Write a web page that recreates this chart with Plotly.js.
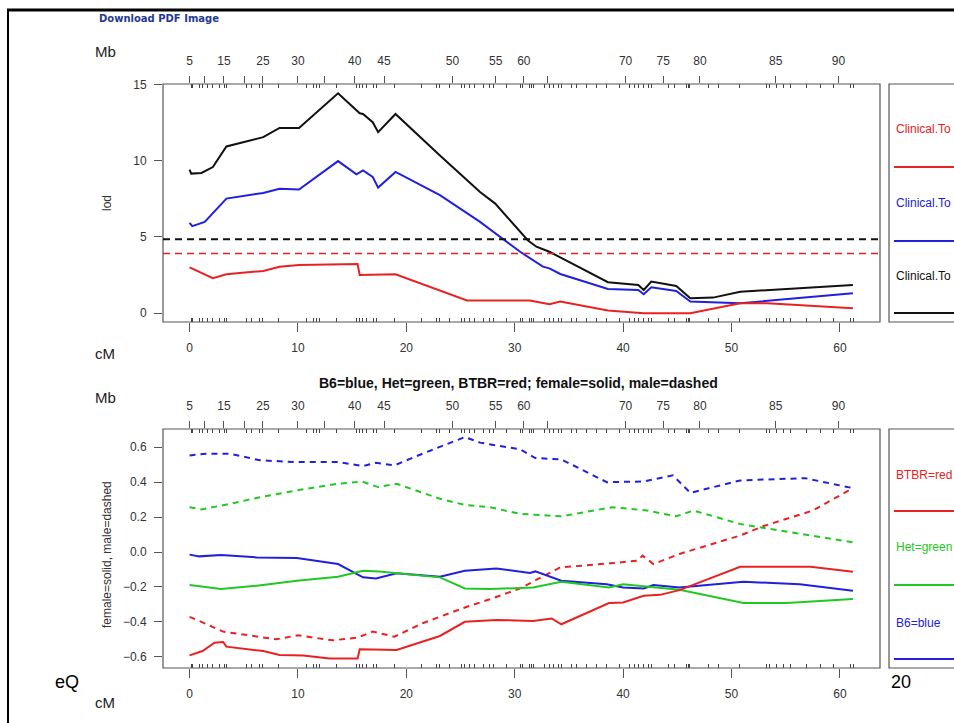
<!DOCTYPE html>
<html>
<head>
<meta charset="utf-8">
<script src="https://cdn.plot.ly/plotly-3.0.1.min.js"></script>
<style>html,body{margin:0;padding:0;background:#fff;overflow:hidden}#chart{width:954px;height:723px}</style>
</head>
<body>
<div id="chart"></div>
<script>
// ---------- data ----------
// top panel: LOD curves (x in cM)
const totCM  = [0,0.15,1.1,2.15,3.4,6.8,8.3,10.1,13.7,15.7,16.0,16.9,17.4,19.0,23.1,26.8,28.2,31.2,32.0,33.2,34.2,38.6,41.4,41.9,42.6,44.9,46.2,48.3,50.8,61.2];
const totLod = [9.42,9.16,9.2,9.59,10.94,11.55,12.16,12.16,14.43,13.12,13.07,12.53,11.88,13.07,10.35,7.95,7.19,4.79,4.36,4.03,3.66,2.03,1.85,1.52,2.07,1.79,0.98,1.02,1.41,1.85];
const bluCM  = [0,0.25,1.4,2.15,3.4,6.8,8.3,10.1,13.7,15.4,16.0,16.9,17.4,19.0,23.1,26.8,28.6,30.5,32.6,33.2,34.2,38.6,41.4,41.9,42.6,44.9,46.2,50.8,61.2];
const bluLod = [5.93,5.71,5.99,6.54,7.52,7.89,8.17,8.11,9.98,9.11,9.37,8.94,8.24,9.27,7.74,5.99,5.01,4.03,3.05,2.94,2.57,1.59,1.52,1.24,1.7,1.46,0.76,0.65,1.31];
const redCM  = [0,2.15,3.4,6.8,8.3,10.1,15.5,15.7,19.0,25.6,31.4,33.2,34.2,38.6,41.9,46.2,50.8,53.3,61.2];
const redLod = [3.01,2.29,2.55,2.77,3.05,3.16,3.22,2.51,2.55,0.83,0.83,0.59,0.76,0.17,0.0,0.0,0.65,0.65,0.33];
const thresholds = [4.85, 3.92];           // black, red dashed thresholds
const topLegend = ["Clinical.To", "Clinical.To", "Clinical.To"];

// bottom panel: effect estimates
const b6MaleCM  = [0,1.5,3.7,6.5,9.9,13.7,16.0,17.2,18.9,21.5,25.4,26.8,30.5,31.9,34.3,38.5,41.9,44.6,46.2,50.8,56.8,61.2];
const b6Male    = [0.552,0.562,0.562,0.524,0.514,0.514,0.491,0.510,0.495,0.562,0.657,0.625,0.587,0.537,0.529,0.399,0.403,0.438,0.338,0.409,0.422,0.365];
const hetMaleCM = [0,1.1,3.7,6.5,9.9,13.7,15.9,17.4,19.1,23.1,25.4,27.7,30.5,34.3,39.0,42.2,44.9,46.5,50.8,61.2];
const hetMale   = [0.256,0.243,0.275,0.313,0.352,0.390,0.403,0.371,0.390,0.304,0.269,0.256,0.218,0.204,0.256,0.237,0.204,0.237,0.160,0.055];
const b6FemCM   = [0,0.9,2.9,6.2,9.9,13.7,16.0,17.2,19.1,23.1,25.4,28.3,31.4,31.9,34.3,38.5,40.0,41.9,42.8,45.2,51.1,56.3,61.2];
const b6Fem     = [-0.015,-0.025,-0.017,-0.031,-0.034,-0.069,-0.145,-0.151,-0.122,-0.141,-0.107,-0.094,-0.120,-0.111,-0.164,-0.184,-0.203,-0.208,-0.189,-0.203,-0.170,-0.185,-0.222];
const hetFemCM  = [0,2.9,6.2,9.9,13.7,16.0,17.5,20.0,23.1,25.4,27.7,31.7,34.3,38.7,40.0,45.2,51.1,55.1,61.2];
const hetFem    = [-0.189,-0.212,-0.193,-0.164,-0.141,-0.107,-0.111,-0.126,-0.145,-0.208,-0.212,-0.203,-0.170,-0.203,-0.184,-0.216,-0.292,-0.292,-0.269];
const btbrFemCM = [0,1.2,2.3,3.1,3.4,6.8,8.3,10.5,12.9,15.5,15.7,17.5,19.1,23.1,25.4,28.3,31.7,33.4,34.3,38.7,40.0,41.9,43.4,45.2,50.8,57.3,61.2];
const btbrFem   = [-0.591,-0.566,-0.518,-0.514,-0.541,-0.566,-0.589,-0.591,-0.608,-0.608,-0.556,-0.556,-0.560,-0.480,-0.399,-0.388,-0.394,-0.380,-0.413,-0.292,-0.289,-0.250,-0.245,-0.218,-0.084,-0.084,-0.113];
const btbrMaleCM= [0,0.9,3.1,6.8,8.0,10.0,13.2,15.5,16.9,18.9,21.5,25.4,27.7,30.5,31.9,34.2,38.8,41.3,41.8,42.8,45.2,50.8,52.9,57.5,61.2];
const btbrMale  = [-0.371,-0.394,-0.455,-0.489,-0.499,-0.476,-0.505,-0.489,-0.455,-0.484,-0.407,-0.317,-0.270,-0.208,-0.164,-0.088,-0.065,-0.050,-0.021,-0.069,-0.011,0.094,0.147,0.237,0.365];
const bottomLegend = ["BTBR=red", "Het=green", "B6=blue"];

// axes
const cmTicks = [0,10,20,30,40,50,60];
const mbPos   = [0.0,1.39,3.17,5.08,6.77,10.0,12.47,15.24,17.94,24.26,28.25,30.84,32.99,40.23,43.70,47.09,54.08,59.86];
const mbText  = ["5","","15","","25","30","","40","45","50","55","60","","70","75","80","85","90"];
const markerPos = [0.15,0.31,0.92,1.23,1.69,2.15,2.77,3.23,3.39,5.23,5.69,6.46,6.71,8.16,10.77,11.39,11.7,12.0,13.54,15.39,15.7,16.0,16.3,16.93,17.24,18.93,21.39,22.78,23.08,24.0,25.08,25.39,25.85,26.31,27.08,27.7,28.0,29.24,30.53,30.72,31.39,31.55,31.7,32.78,33.24,33.55,34.0,34.3,35.24,35.7,36.63,37.55,38.47,39.7,40.63,41.09,41.39,41.86,42.32,42.63,44.16,44.78,45.86,46.01,46.17,47.86,48.78,50.78,53.25,53.55,54.17,54.78,55.4,56.94,58.17,59.4,60.94,61.25];

// ---------- styling / layout ----------
const W = 954, H = 723;
const px = v => v / W, py = v => 1 - v / H;
const RED = '#e82222', BLUE = '#2020dd', GREEN = '#22c822', BLACK = '#111111';
const FONT = 'Liberation Sans, Arial, sans-serif';
const xDom = [px(163), px(880)];
const topDom = [py(322), py(84)];
const botDom = [py(668), py(429)];
const xRange = [-2.45, 63.7];

function line(x, y, color, dash, xa, ya) {
  return {x, y, type: 'scatter', mode: 'lines', xaxis: xa, yaxis: ya,
          line: {color, width: 2, dash: dash || 'solid'}, hoverinfo: 'skip', showlegend: false};
}
function carrier(x, y, xa, ya) {   // invisible trace so the top Mb axes get drawn
  return {x, y, type: 'scatter', mode: 'none', xaxis: xa, yaxis: ya, hoverinfo: 'skip', showlegend: false};
}
const DASH = '6px,5px';
const traces = [
  carrier(totCM, totLod, 'x2', 'y'),
  carrier(b6MaleCM, b6Male, 'x4', 'y2'),
  line(totCM, totLod, BLACK, null, 'x', 'y'),
  line(bluCM, bluLod, BLUE, null, 'x', 'y'),
  line(redCM, redLod, RED, null, 'x', 'y'),
  line(b6MaleCM, b6Male, BLUE, DASH, 'x3', 'y2'),
  line(hetMaleCM, hetMale, GREEN, DASH, 'x3', 'y2'),
  line(btbrMaleCM, btbrMale, RED, DASH, 'x3', 'y2'),
  line(b6FemCM, b6Fem, BLUE, null, 'x3', 'y2'),
  line(hetFemCM, hetFem, GREEN, null, 'x3', 'y2'),
  line(btbrFemCM, btbrFem, RED, null, 'x3', 'y2'),
];

const tickFont = {family: FONT, size: 12, color: '#333'};
const AX = '#555';
function cmAxis(anchor) {
  return {domain: xDom, range: xRange, anchor, tickmode: 'array', tickvals: cmTicks,
    ticks: 'outside', ticklen: 9, tickcolor: AX, showgrid: false, zeroline: false, showline: false,
    tickfont: tickFont, ticklabelstandoff: 6,
    minor: {tickmode: 'array', tickvals: markerPos, ticks: 'inside', ticklen: 4, tickcolor: '#444', tickwidth: 1, showgrid: false}};
}
function mbAxis(over, anchor) {
  return {overlaying: over, anchor, side: 'top', domain: xDom, range: xRange, tickmode: 'array', tickvals: mbPos, ticktext: mbText,
    ticks: 'outside', ticklen: 7, tickcolor: AX, showgrid: false, zeroline: false, showline: false,
    tickfont: tickFont, ticklabelstandoff: 6,
    minor: {tickmode: 'array', tickvals: markerPos, ticks: 'inside', ticklen: 4, tickcolor: '#444', tickwidth: 1, showgrid: false}};
}

const layout = {
  width: W, height: H, margin: {l: 0, r: 0, t: 0, b: 0},
  paper_bgcolor: '#fff', plot_bgcolor: '#fff', showlegend: false,
  font: {family: FONT},
  xaxis: cmAxis('y'),
  xaxis2: mbAxis('x', 'y'),
  xaxis3: cmAxis('y2'),
  xaxis4: mbAxis('x3', 'y2'),
  yaxis: {domain: topDom, anchor: 'x', range: [-0.58, 15.04], tickmode: 'array', tickvals: [0,5,10,15],
    ticks: 'outside', ticklen: 8, tickcolor: AX, showgrid: false, zeroline: false, showline: false,
    tickfont: tickFont, ticklabelstandoff: 5},
  yaxis2: {domain: botDom, anchor: 'x3', range: [-0.663, 0.703], tickmode: 'array', tickvals: [-0.6,-0.4,-0.2,0,0.2,0.4,0.6],
    tickformat: '.1f', ticks: 'outside', ticklen: 8, tickcolor: AX, showgrid: false, zeroline: false, showline: false,
    tickfont: tickFont, ticklabelstandoff: 5},
  shapes: [],
  annotations: []
};

// plot boxes
layout.shapes.push({type: 'rect', xref: 'x domain', yref: 'y domain', x0: 0, x1: 1, y0: 0, y1: 1, line: {color: AX, width: 1.2}});
layout.shapes.push({type: 'rect', xref: 'x3 domain', yref: 'y2 domain', x0: 0, x1: 1, y0: 0, y1: 1, line: {color: AX, width: 1.2}});
// thresholds
layout.shapes.push({type: 'line', xref: 'x domain', yref: 'y', x0: 0, x1: 1, y0: thresholds[0], y1: thresholds[0], line: {color: BLACK, width: 2, dash: '7px,5px'}});
layout.shapes.push({type: 'line', xref: 'x domain', yref: 'y', x0: 0, x1: 1, y0: thresholds[1], y1: thresholds[1], line: {color: RED, width: 1.6, dash: '7px,5px'}});

// legend boxes (clipped at page edge)
layout.shapes.push({type: 'rect', xref: 'paper', yref: 'paper', x0: px(889), x1: px(1000), y0: topDom[0], y1: topDom[1], line: {color: AX, width: 1.2}});
layout.shapes.push({type: 'rect', xref: 'paper', yref: 'paper', x0: px(889), x1: px(1000), y0: botDom[0], y1: botDom[1], line: {color: AX, width: 1.2}});
const topLegCol = [RED, BLUE, BLACK], topTextY = [129, 203, 276], topLineY = [167, 241, 313];
topLegend.forEach((t, i) => {
  layout.annotations.push({xref: 'paper', yref: 'paper', x: px(894), y: py(topTextY[i]), xanchor: 'left', yanchor: 'middle',
    text: t, showarrow: false, font: {family: FONT, size: 12, color: topLegCol[i]}});
  layout.shapes.push({type: 'line', xref: 'paper', yref: 'paper', x0: px(894), x1: px(1000), y0: py(topLineY[i]), y1: py(topLineY[i]), line: {color: topLegCol[i], width: 2}});
});
const botLegCol = [RED, GREEN, BLUE], botTextY = [475, 547, 623], botLineY = [511, 585, 659];
bottomLegend.forEach((t, i) => {
  layout.annotations.push({xref: 'paper', yref: 'paper', x: px(894), y: py(botTextY[i]), xanchor: 'left', yanchor: 'middle',
    text: t, showarrow: false, font: {family: FONT, size: 12, color: botLegCol[i]}});
  layout.shapes.push({type: 'line', xref: 'paper', yref: 'paper', x0: px(894), x1: px(1000), y0: py(botLineY[i]), y1: py(botLineY[i]), line: {color: botLegCol[i], width: 2}});
});

// text labels
function ann(text, x, y, size, opts) {
  layout.annotations.push(Object.assign({xref: 'paper', yref: 'paper', x: px(x), y: py(y), xanchor: 'center', yanchor: 'middle',
    text, showarrow: false, font: {family: FONT, size, color: '#222'}}, opts || {}));
}
ann('Mb', 105, 52, 15);
ann('cM', 105, 353, 15);
ann('Mb', 105, 397, 15);
ann('cM', 105, 702, 15);
ann('lod', 107, 203, 12, {textangle: -90, font: {family: FONT, size: 12, color: '#333'}});
ann('female=solid, male=dashed', 107, 555, 12, {textangle: -90, font: {family: FONT, size: 12, color: '#333'}});
ann('<b>B6=blue, Het=green, BTBR=red; female=solid, male=dashed</b>', 518, 383, 14, {font: {family: FONT, size: 14, color: '#111'}});
ann('<b>Download PDF Image</b>', 97, 18, 10, {xanchor: 'left', font: {family: 'DejaVu Sans, Verdana, sans-serif', size: 10, color: '#1f3a93'}});
ann('eQ', 53, 682, 18, {xanchor: 'left', font: {family: FONT, size: 18, color: '#000'}});
ann('20', 889, 682, 18, {xanchor: 'left', font: {family: FONT, size: 18, color: '#000'}});

// slide frame
layout.shapes.push({type: 'line', xref: 'paper', yref: 'paper', x0: px(7), x1: px(960), y0: py(10), y1: py(10), line: {color: '#000', width: 3}});
layout.shapes.push({type: 'line', xref: 'paper', yref: 'paper', x0: px(8), x1: px(8), y0: py(9), y1: py(730), line: {color: '#000', width: 2}});

Plotly.newPlot('chart', traces, layout, {staticPlot: true, displayModeBar: false});
</script>
</body>
</html>
